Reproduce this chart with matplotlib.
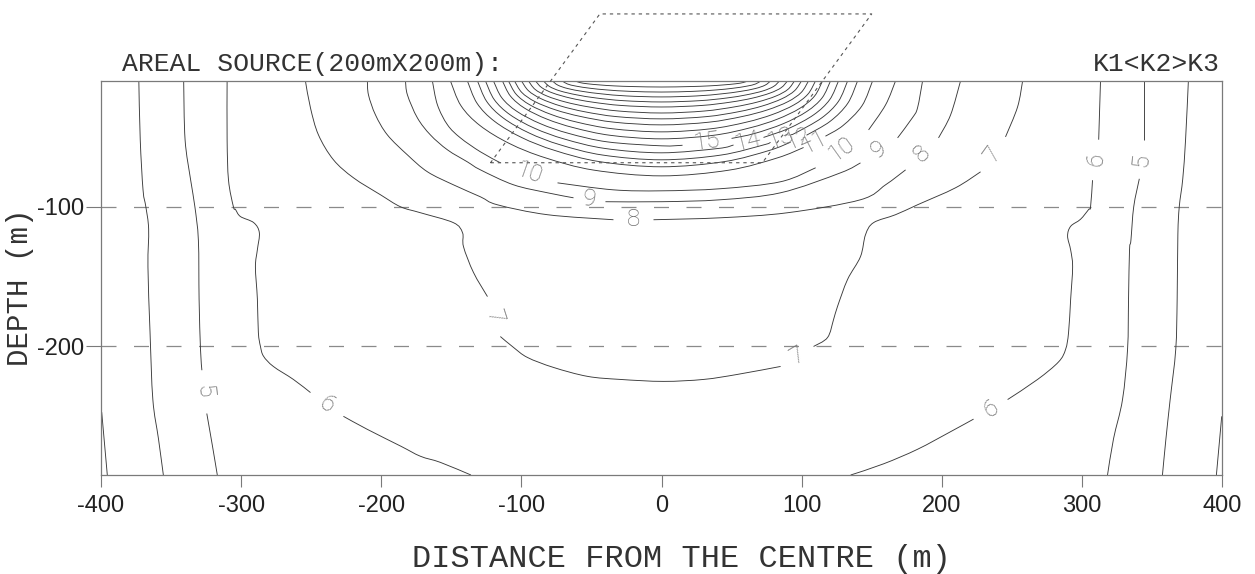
import numpy as np
import matplotlib.pyplot as plt
from matplotlib.path import Path
from matplotlib.patches import PathPatch

plt.rcParams['axes.unicode_minus'] = False

# isolines: list of branches, each branch a list of segments of (distance m, depth m);
# the break between two segments of a branch is where the level number is written
iso3 = [
    [[(-399.5, -247), (-395.5, -292)]],
    [[(399.8, -250), (396, -292)]],
]
iso4 = [
    [[(-373, -10), (-372, -52), (-370, -88), (-368, -100), (-366, -116), (-366.5, -143),
      (-365, -190), (-363, -238), (-359, -266), (-355.5, -292)]],
    [[(376, -10), (374, -52), (372, -80), (369.5, -100), (368.5, -120), (368, -166),
      (367, -202), (363, -238), (360, -266), (357.5, -292)]],
]
iso5 = [
    [[(-341, -10), (-340, -52), (-336, -81), (-333, -100), (-330.5, -124), (-330, -166),
      (-329, -202), (-328, -217)],
     [(-324.5, -248), (-320.5, -271), (-317, -292)]],
    [[(344, -10), (344, -52)],
     [(341, -80), (337, -100), (335, -124), (334, -131), (333.3, -166), (332.6, -202),
      (329, -238), (322.6, -266), (318.3, -292)]],
]
iso6 = [
    [[(-310, -10), (-310, -52), (-309, -81), (-305.5, -100), (-304, -102), (-300.5, -107),
      (-291, -111.4), (-287, -118.6), (-288.4, -130.7), (-289.8, -143), (-288.4, -166),
      (-287.7, -190), (-286.2, -200), (-284, -207), (-277, -214.3), (-262.7, -223.6),
      (-250.5, -233)],
     [(-227, -250), (-210, -259.3), (-186, -271.4), (-172, -278.6), (-157.7, -283),
      (-136, -292)]],
    [[(313.3, -10), (312, -52)],
     [(307.6, -81), (306.2, -100), (304.8, -102), (299, -109), (292, -114), (289.8, -121),
      (292, -131), (293.4, -143), (292, -166), (290.5, -190), (288.4, -202), (283.4, -211),
      (268.4, -223.6), (247, -238)],
     [(222.7, -252), (206.3, -261), (182.7, -273.6), (158.5, -284), (135, -292)]],
]
iso7 = [
    [[(-254.1, -10), (-250.5, -29.3), (-244.8, -48.6), (-234.1, -66.4), (-219.8, -79.3),
      (-200.6, -91.4), (-186.3, -100), (-172, -104.3), (-148.5, -111.4), (-142, -118.6),
      (-141.3, -128.6), (-134.2, -147), (-124.2, -164.3)],
     [(-115, -192.9), (-105.6, -200.7), (-95.6, -207.9), (-77.1, -215), (-52.8, -221.4),
      (-29.3, -223.6), (1.4, -225), (30, -223.6), (54.2, -220), (85, -214.3)],
     [(108.5, -200), (118.5, -193.6), (122.8, -180.7), (125.6, -171.4), (132.8, -152),
      (142, -135.7), (145.6, -120), (151.3, -111.4), (167, -105.7), (182.7, -98.6),
      (209.9, -86.4), (227.7, -75)],
     [(245.5, -50), (254.1, -28.6), (257.7, -10)]],
]
iso8 = [
    [[(-209.9, -10), (-209.1, -20), (-204.1, -34.3), (-195.6, -48.6), (-181.3, -62.9),
      (-167, -75), (-148.5, -84.3), (-129.2, -92.9), (-117.1, -98.6), (-81.4, -105.7),
      (-34.3, -109.3)],
     [(-5.7, -109.3), (42.1, -107.9), (89.9, -104.3), (142, -95), (159.9, -84.3),
      (174.2, -73.6)],
     [(197.7, -50.7), (206.3, -34.3), (213.4, -10)]],
]
iso9 = [
    [[(-182.7, -10), (-181.3, -20), (-174.2, -36.4), (-164.9, -48.6), (-152.7, -59.3),
      (-138.5, -67.9), (-129.2, -73.6), (-105.6, -84.3), (-81.4, -90), (-62.8, -93.6)],
     [(-40, -96.4), (0, -96.4), (42.1, -95), (85, -90), (127.8, -75.7), (142, -68.6)],
     [(168.5, -50.7), (179, -36.4), (182.7, -29.3), (186.3, -10)]],
]
iso10 = [
    [[(-163.5, -10), (-159.9, -27.1), (-152.7, -41.4), (-143.5, -50.7), (-129.2, -60.7),
      (-114.9, -68.6)],
     [(-74.2, -82.9), (-34.3, -87.9), (0, -88.6), (42.1, -87.1), (85, -82.1), (110, -72.1)],
     [(147.8, -45), (159.9, -27.1), (167, -10)]],
]
iso11 = [
    [[(-150.6, -10), (-143.1, -27.7), (-129.5, -41.9), (-108.4, -54.8), (-82.8, -65.0),
      (-48.2, -73.8), (0, -77.9), (48.2, -73.8), (82.8, -65.0), (101.4, -57.6)],
     [(117, -49.5), (129.5, -41.9), (143.1, -27.7), (150.6, -10)]],
]
iso12 = [
    [[(-138.5, -10), (-131.6, -26.0), (-119.1, -38.9), (-99.7, -50.5), (-76.2, -59.7),
      (-44.3, -67.7), (0, -71.4), (44.8, -67.7), (76.9, -59.7), (92.1, -53.8)],
     [(103.5, -48.8), (120.3, -38.9), (132.9, -26.0), (139.9, -10)]],
]
iso13 = [
    [[(-131.3, -10), (-124.7, -24.7), (-112.9, -36.5), (-94.5, -47.2), (-72.2, -55.7),
      (-42.0, -63.0), (0, -66.4), (42.5, -63.0), (73.0, -55.7), (77.8, -53.9)],
     [(92.1, -48.5), (95.6, -47.2), (114.2, -36.5), (126.2, -24.7), (132.8, -10)]],
]
iso14 = [
    [[(-125.6, -10), (-119.3, -23.4), (-108.0, -34.2), (-90.4, -43.9), (-69.1, -51.6),
      (-40.2, -58.3), (0, -61.4), (40.4, -58.3), (51.4, -55.8)],
     [(72.8, -50.4), (90.9, -43.9), (108.6, -34.2), (120.0, -23.4), (126.3, -10)]],
]
iso15 = [
    [[(-119.9, -10), (-113.9, -22.1), (-103.1, -31.8), (-86.3, -40.6), (-65.9, -47.6),
      (-38.4, -53.6), (0, -56.4), (15, -56.0)],
     [(50, -51.1), (66.3, -47.6), (86.8, -40.6), (103.7, -31.8), (114.6, -22.1), (120.6, -10)]],
]
iso16 = [[[(-113.5, -10), (-107.8, -20.8), (-97.6, -29.5), (-81.7, -37.3), (-62.4, -43.5),
           (-36.3, -48.9), (0, -51.4), (36.8, -48.9), (63.2, -43.5), (82.7, -37.3),
           (98.8, -29.5), (109.2, -20.8), (114.9, -10)]]]
iso17 = [[[(-109.2, -10), (-103.7, -19.5), (-93.9, -27.1), (-78.6, -34.0), (-60.1, -39.5),
           (-34.9, -44.2), (0, -46.4), (35.2, -44.2), (60.4, -39.5), (79.1, -34.0),
           (94.5, -27.1), (104.4, -19.5), (109.9, -10)]]]
iso18 = [[[(-104.9, -10), (-99.7, -18.2), (-90.2, -24.8), (-75.5, -30.7), (-57.7, -35.4),
           (-33.6, -39.5), (0, -41.4), (33.6, -39.5), (57.7, -35.4), (75.5, -30.7),
           (90.2, -24.8), (99.7, -18.2), (104.9, -10)]]]
iso19 = [[[(-99.9, -10), (-94.9, -17.0), (-85.9, -22.7), (-71.9, -27.9), (-54.9, -32.0),
           (-32.0, -35.5), (0, -37.1), (32.0, -35.5), (54.9, -32.0), (71.9, -27.9),
           (85.9, -22.7), (94.9, -17.0), (99.9, -10)]]]
iso20 = [[[(-94.9, -10), (-90.2, -16.0), (-81.6, -20.8), (-68.3, -25.1), (-52.2, -28.5),
           (-30.4, -31.5), (0, -32.9), (30.4, -31.5), (52.2, -28.5), (68.3, -25.1),
           (81.6, -20.8), (90.2, -16.0), (94.9, -10)]]]
iso21 = [[[(-89.9, -10), (-85.4, -14.8), (-77.3, -18.7), (-64.7, -22.3), (-49.4, -25.1),
           (-28.8, -27.5), (0, -28.6), (28.8, -27.5), (49.4, -25.1), (64.7, -22.3),
           (77.3, -18.7), (85.4, -14.8), (89.9, -10)]]]
iso22 = [[[(-84.2, -10), (-80.0, -13.9), (-72.4, -17.1), (-60.6, -19.9), (-46.3, -22.2),
           (-26.9, -24.1), (0, -25.0), (26.9, -24.1), (46.3, -22.2), (60.6, -19.9),
           (72.4, -17.1), (80.0, -13.9), (84.2, -10)]]]
iso23 = [[[(-77.8, -10), (-73.9, -13.0), (-66.9, -15.4), (-56.0, -17.5), (-42.8, -19.2),
           (-24.9, -20.7), (0, -21.4), (24.9, -20.7), (42.8, -19.2), (56.0, -17.5),
           (66.9, -15.4), (73.9, -13.0), (77.8, -10)]]]
iso24 = [[[(-70.7, -10), (-67.2, -12.1), (-60.8, -13.7), (-50.9, -15.2), (-38.9, -16.4),
           (-22.6, -17.4), (0, -17.9), (22.6, -17.4), (38.9, -16.4), (50.9, -15.2),
           (60.8, -13.7), (67.2, -12.1), (70.7, -10)]]]
iso25 = [[[(-61.4, -10), (-58.3, -11.1), (-52.8, -12.0), (-44.2, -12.8), (-33.8, -13.5),
           (-19.6, -14.0), (0, -14.3), (19.6, -14.0), (33.8, -13.5), (44.2, -12.8),
           (52.8, -12.0), (58.3, -11.1), (61.4, -10)]]]

isolines = {3: iso3, 4: iso4, 5: iso5, 6: iso6, 7: iso7, 8: iso8, 9: iso9, 10: iso10,
            11: iso11, 12: iso12, 13: iso13, 14: iso14, 15: iso15, 16: iso16, 17: iso17,
            18: iso18, 19: iso19, 20: iso20, 21: iso21, 22: iso22, 23: iso23, 24: iso24,
            25: iso25}

# layer boundaries and outline of the 200m x 200m source drawn in perspective
layer_depths = [-100, -200]
source_x = [-122, 72, 150, -44, -122]
source_d = [-68.5, -68.5, 38, 38, -68.5]

x_ticks = [-400, -300, -200, -100, 0, 100, 200, 300, 400]
y_ticks = [-100, -200]


def curve_through(points):
    """Bezier path passing through the given points (Catmull-Rom style handles)."""
    p = np.asarray(points, float)
    if len(p) < 3:
        return Path(p)
    verts, codes = [p[0]], [Path.MOVETO]
    n = len(p)
    for i in range(n - 1):
        a = p[i - 1] if i > 0 else p[i]
        d = p[i + 2] if i + 2 < n else p[i + 1]
        verts += [p[i] + (p[i + 1] - a) / 6, p[i + 1] - (d - p[i]) / 6, p[i + 1]]
        codes += [Path.CURVE4] * 3
    return Path(verts, codes)


fig = plt.figure(figsize=(12.55, 5.74), dpi=100)
ax = fig.add_axes([101 / 1255, 1 - 475 / 574, 1121 / 1255, 394 / 574])
ax.set_xlim(-400, 400)
ax.set_ylim(-292, -10)

frame = '#7a7a7a'
for sp in ax.spines.values():
    sp.set_color(frame)
    sp.set_linewidth(0.9)

for depth in layer_depths:
    ax.axhline(depth, color='#8a8a8a', lw=0.9, ls=(0, (12, 14)), zorder=1)

ax.plot(source_x, source_d, color='#555555', lw=0.8, ls=(0, (3, 3.5)),
        clip_on=False, zorder=3)

label_font = dict(family=['Roboto', 'DejaVu Sans'], weight='light', size=17.5,
                  color='#707070')

for level, branches in isolines.items():
    for branch in branches:
        for seg in branch:
            ax.add_patch(PathPatch(curve_through(seg), fill=False, edgecolor='#3a3a3a',
                                   lw=0.65, zorder=2))
        # write the level number in every break of the line
        for a, b in zip(branch[:-1], branch[1:]):
            p0, p1 = a[-1], b[0]
            (u0, v0), (u1, v1) = ax.transData.transform([p0, p1])
            ang = np.degrees(np.arctan2(v1 - v0, u1 - u0))
            if ang > 90:
                ang -= 180
            elif ang < -90:
                ang += 180
            ax.text((p0[0] + p1[0]) / 2, (p0[1] + p1[1]) / 2, str(level),
                    rotation=ang, rotation_mode='anchor', ha='center', va='center',
                    zorder=4, **label_font)

ax.set_xticks(x_ticks)
ax.set_yticks(y_ticks)
ax.tick_params(axis='x', length=8.6, width=0.8, color=frame, pad=5.5,
               labelsize=17, labelcolor='#222222')
ax.tick_params(axis='y', length=10.8, width=0.8, color=frame, pad=1,
               labelsize=17, labelcolor='#222222')
for lab in ax.get_xticklabels() + ax.get_yticklabels():
    lab.set_family(['Liberation Sans', 'DejaVu Sans'])

mono = ['Liberation Mono', 'DejaVu Sans Mono']
ax.text(0.019, 1.026, 'AREAL SOURCE(200mX200m):', transform=ax.transAxes,
        ha='left', va='baseline', family=mono, size=19, color='#333333')
ax.text(0.998, 1.026, 'K1<K2>K3', transform=ax.transAxes,
        ha='right', va='baseline', family=mono, size=19, color='#333333')
fig.text(681 / 1255, 1 - 567 / 574, 'DISTANCE FROM THE CENTRE (m)', ha='center',
         va='baseline', family=mono, size=23, color='#333333')
fig.text(20 / 1255, 1 - 287 / 574, 'DEPTH (m)', rotation=90, ha='center',
         va='center', family=mono, size=21, color='#333333')

fig.savefig('out.png', dpi=100)
